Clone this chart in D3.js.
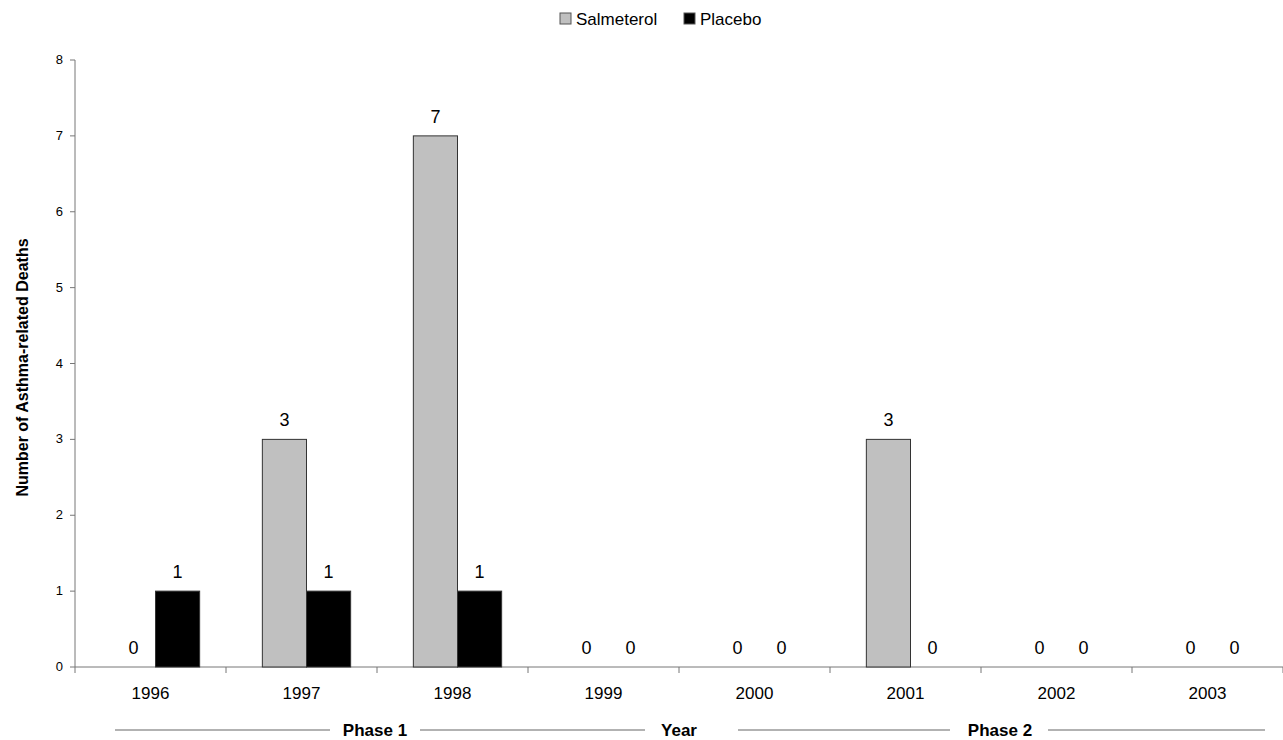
<!DOCTYPE html>
<html><head><meta charset="utf-8">
<script src="https://cdn.jsdelivr.net/npm/d3@7"></script>
<style>body{margin:0;background:#fff}text{font-family:Arial,"Liberation Sans",sans-serif}</style>
</head><body><svg id="chart" width="1283" height="740"></svg>
<script>
const years = ["1996","1997","1998","1999","2000","2001","2002","2003"];
const salmeterol = [0,3,7,0,0,3,0,0];
const placebo = [1,1,1,0,0,0,0,0];
const yTicks = [0,1,2,3,4,5,6,7,8];
const seriesNames = ["Salmeterol","Placebo"];
const seriesColors = ["#c0c0c0","#000000"];

const svg = d3.select("#chart");
const mLeft = 75, mRight = 1283, mTop = 60, mBottom = 667;

const x = d3.scaleBand().domain(years).range([mLeft, mRight]);
const xs = d3.scaleBand().domain(seriesNames).range([5, x.bandwidth() + 5]).paddingInner(0).paddingOuter(0.71);
const y = d3.scaleLinear().domain([0, 8]).range([mBottom, mTop]);

// axes
svg.append("line").attr("x1", mLeft).attr("x2", mLeft).attr("y1", mTop).attr("y2", mBottom).attr("stroke", "#777");
svg.append("line").attr("x1", mLeft).attr("x2", mRight).attr("y1", mBottom).attr("y2", mBottom).attr("stroke", "#777");
yTicks.forEach(t => {
  svg.append("line").attr("x1", mLeft - 5).attr("x2", mLeft).attr("y1", y(t)).attr("y2", y(t)).attr("stroke", "#777");
  svg.append("text").attr("x", mLeft - 12).attr("y", y(t) + 4).attr("text-anchor", "end").attr("font-size", 13).text(t);
});
d3.range(years.length + 1).forEach(i => {
  const xp = mLeft + i * x.step();
  svg.append("line").attr("x1", xp).attr("x2", xp).attr("y1", mBottom).attr("y2", mBottom + 6).attr("stroke", "#777");
});
years.forEach(yr => {
  svg.append("text").attr("x", x(yr) + x.bandwidth() / 2).attr("y", mBottom + 32).attr("text-anchor", "middle").attr("font-size", 17).text(yr);
});

// bars
const data = [];
years.forEach((yr, i) => {
  data.push({year: yr, s: "Salmeterol", v: salmeterol[i]});
  data.push({year: yr, s: "Placebo", v: placebo[i]});
});
svg.selectAll("rect.bar").data(data.filter(d => d.v > 0)).enter().append("rect")
  .attr("x", d => x(d.year) + xs(d.s))
  .attr("y", d => y(d.v))
  .attr("width", xs.bandwidth())
  .attr("height", d => mBottom - y(d.v))
  .attr("fill", d => seriesColors[seriesNames.indexOf(d.s)])
  .attr("stroke", "#333").attr("stroke-width", 1);
svg.selectAll("text.lab").data(data).enter().append("text")
  .attr("x", d => x(d.year) + xs(d.s) + xs.bandwidth() / 2)
  .attr("y", d => y(d.v) - 13)
  .attr("text-anchor", "middle").attr("font-size", 18).text(d => d.v);

// y title
svg.append("text").attr("transform", `translate(28,${(mTop + mBottom) / 2 + 4}) rotate(-90)`)
  .attr("text-anchor", "middle").attr("font-size", 16).attr("font-weight", "bold").text("Number of Asthma-related Deaths");

// phase row
const py = 730;
[[115,330],[420,645],[738,950],[1048,1265]].forEach(p => {
  svg.append("line").attr("x1", p[0]).attr("x2", p[1]).attr("y1", py).attr("y2", py).attr("stroke", "#999").attr("stroke-width", 1.5);
});
[["Phase 1",375],["Year",679],["Phase 2",1000]].forEach(p => {
  svg.append("text").attr("x", p[1]).attr("y", py + 6).attr("text-anchor", "middle").attr("font-size", 17).attr("font-weight", "bold").text(p[0]);
});

// legend
const lg = svg.append("g");
[[560,"Salmeterol"],[684,"Placebo"]].forEach((l, i) => {
  lg.append("rect").attr("x", l[0]).attr("y", 13).attr("width", 11).attr("height", 11)
    .attr("fill", seriesColors[i]).attr("stroke", "#555");
  lg.append("text").attr("x", l[0] + 16).attr("y", 25).attr("font-size", 17).text(l[1]);
});
</script></body></html>
